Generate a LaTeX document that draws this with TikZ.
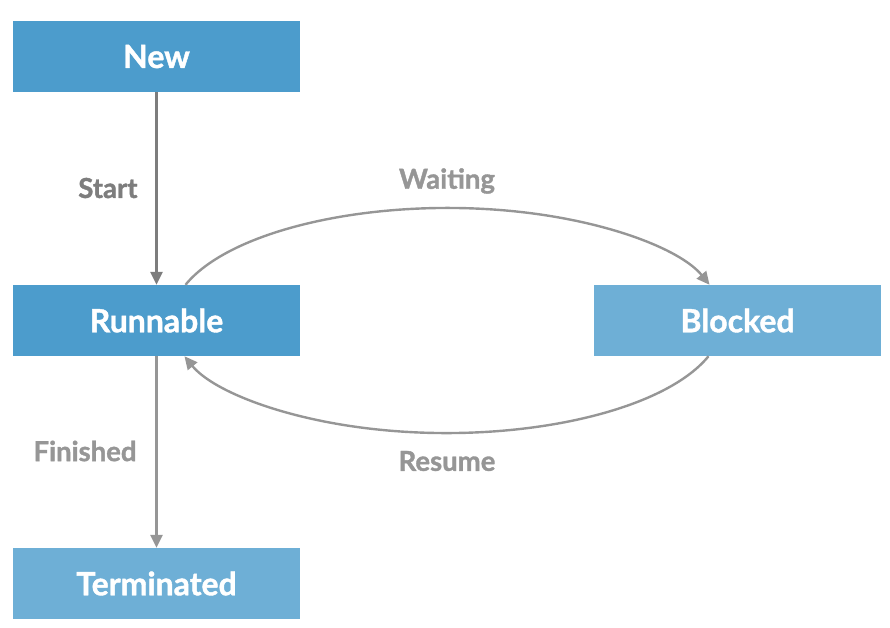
\documentclass[tikz,border=0pt]{standalone}
\usepackage{fontspec}
\setmainfont{Lato}[BoldFeatures={FakeBold=1.3}]
\usetikzlibrary{arrows.meta}
\definecolor{boxdark}{RGB}{76,156,204}
\definecolor{boxlight}{RGB}{110,175,214}
\definecolor{lineA}{RGB}{125,125,125}
\definecolor{lineB}{RGB}{150,150,150}
\begin{document}
\begin{tikzpicture}[x=1pt,y=-1pt,
  state/.style={minimum width=287pt,minimum height=71pt,inner sep=0pt,text=white,font=\fontsize{32}{36}\selectfont\bfseries},
  lbl/.style={font=\fontsize{27.5}{30}\selectfont\bfseries},
  arr/.style={line width=2.4pt,-{Triangle[width=12pt,length=13pt]}}]
\useasboundingbox (0,0) rectangle (890,627);
\node[state,fill=boxdark] (new) at (156.5,56.5) {New};
\node[state,fill=boxdark] (run) at (156.5,320.5) {Runnable};
\node[state,fill=boxlight] (term) at (156.5,583.5) {Terminated};
\node[state,fill=boxlight] (blk) at (737.5,320.5) {Blocked};
\draw[arr,color=lineA] (new.south) -- (run.north);
\draw[arr,color=lineB] (run.south) -- (term.north);
\draw[arr,color=lineB] ([xshift=29pt]run.north) arc[start angle=161.7,end angle=18.3,x radius=276pt,y radius=112pt];
\draw[arr,color=lineB] ([xshift=-29pt]blk.south) arc[start angle=-18.3,end angle=-161.7,x radius=276pt,y radius=112pt];
\node[lbl,text=lineA,anchor=east] (lstart) at (141,188) {Start};
\node[lbl,text=lineB,anchor=east] (lfin) at (140,451) {Finished};
\node[lbl,text=lineB] (lwait) at (447,181) {Waiting};
\node[lbl,text=lineB] (lres) at (447,461) {Resume};
\end{tikzpicture}
\end{document}
